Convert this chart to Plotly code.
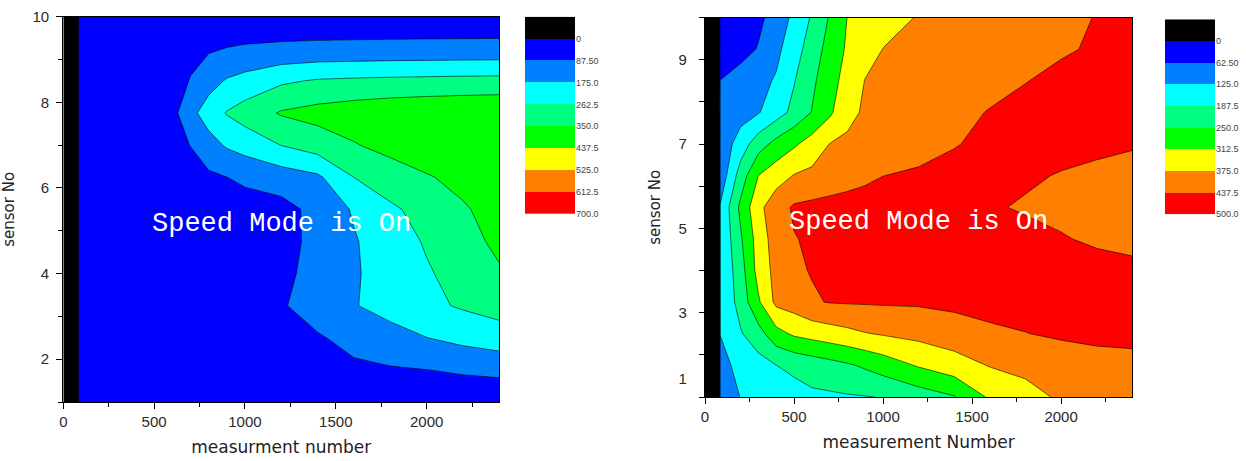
import plotly.graph_objects as go

# ---------------- data ----------------
MEASUREMENTS = [0, 84, 200, 300, 400, 500, 600, 700, 800, 900, 1000, 1200, 1400, 1600, 1800, 2000, 2200, 2400]
SENSORS = [1, 1.75, 2.5, 3.25, 4, 4.75, 5.5, 6.25, 7, 7.75, 8.5, 9.25, 10]
NO_DATA = -100000  # measurement 0 carries no reading (drawn below the 0 level)

LEFT_Z = [
    [NO_DATA, 30, 30, 32, 34, 36, 38, 40, 42, 44, 46, 48, 50, 52, 54, 56, 57, 58],
    [NO_DATA, 30, 31, 33, 35, 37, 39, 41, 43, 45, 50, 58, 65, 73, 80, 87, 93, 97],
    [NO_DATA, 30, 32, 34, 36, 38, 40, 42, 45, 48, 52, 65, 80, 111, 142, 174, 202, 230],
    [NO_DATA, 30, 32, 34, 37, 40, 43, 46, 50, 55, 60, 80, 123, 170, 208, 244, 272, 290],
    [NO_DATA, 30, 32, 34, 37, 40, 43, 46, 50, 55, 60, 68, 115, 166, 211, 254, 294, 340],
    [NO_DATA, 30, 32, 34, 37, 40, 43, 46, 50, 53, 55, 58, 111, 168, 220, 271, 317, 370],
    [NO_DATA, 30, 33, 36, 39, 42, 45, 48, 50, 52, 55, 58, 113, 184, 250, 289, 341, 382],
    [NO_DATA, 30, 35, 40, 45, 48, 50, 58, 72, 87, 102, 131, 160, 263, 303, 343, 374, 395],
    [NO_DATA, 30, 35, 40, 45, 50, 60, 89, 141, 185, 211, 264, 304, 344, 380, 403, 418, 425],
    [NO_DATA, 30, 35, 40, 45, 55, 60, 150, 216, 268, 300, 358, 380, 397, 410, 419, 425, 430],
    [NO_DATA, 30, 35, 40, 45, 50, 55, 91, 142, 183, 205, 249, 271, 277, 282, 285, 288, 290],
    [NO_DATA, 30, 35, 40, 45, 50, 55, 68, 78, 90, 97, 104, 108, 110, 112, 113, 114, 115],
    [NO_DATA, 30, 30, 30, 30, 30, 30, 30, 30, 30, 30, 30, 30, 30, 30, 30, 30, 30],
]

RIGHT_Z = [
    [NO_DATA, 100, 126, 135, 150, 165, 176, 178, 182, 185, 190, 218, 246, 322, 355, 383, 395, 405],
    [NO_DATA, 110, 138, 162, 187, 201, 215, 228, 242, 259, 279, 318, 349, 378, 390, 400, 410, 418],
    [NO_DATA, 125.5, 182, 226, 291, 322, 335, 347, 359, 372, 380, 393, 407, 425, 436, 447, 455, 455],
    [NO_DATA, 128, 212, 304, 390, 404, 432, 440, 442, 443, 444, 445, 452, 460, 462, 462, 462, 458],
    [NO_DATA, 128, 224, 335, 395, 430, 440, 448, 455, 460, 463, 466, 468, 468, 466, 462, 455, 448],
    [NO_DATA, 128, 242, 340, 405, 435, 445, 452, 458, 462, 465, 468, 468, 466, 460, 441, 430, 425],
    [NO_DATA, 128, 264, 359, 411, 445, 452, 458, 462, 465, 468, 470, 462, 445, 430, 425, 420, 418],
    [NO_DATA, 82, 216, 313, 348, 378, 389, 401, 413, 425, 437, 445, 452, 455, 448, 433, 425, 420],
    [NO_DATA, 80, 155, 222, 270, 303, 339, 376, 384, 393, 401, 418, 435, 448, 458, 463, 450, 442],
    [NO_DATA, 76, 100, 121, 160, 204, 252, 301, 361, 382, 390, 407, 424, 440, 452, 464, 470, 475],
    [NO_DATA, 63, 87, 107, 131, 184, 237, 289, 335, 377, 382, 395, 409, 422, 436, 449, 463, 476],
    [NO_DATA, 20, 42, 66, 110, 160, 217, 273, 321, 350, 376, 387, 398, 409, 421, 432, 443, 454],
    [NO_DATA, 20, 38, 50, 86, 140, 194, 255, 314, 332, 350, 379, 391, 403, 415, 427, 439, 452],
]

LEFT_LEVEL_START, LEFT_LEVEL_STEP = 0, 87.5
RIGHT_LEVEL_START, RIGHT_LEVEL_STEP = 0, 62.5
LEFT_LEVEL_LABELS = ["0", "87.50", "175.0", "262.5", "350.0", "437.5", "525.0", "612.5", "700.0"]
RIGHT_LEVEL_LABELS = ["0", "62.50", "125.0", "187.5", "250.0", "312.5", "375.0", "437.5", "500.0"]
BAND_COLORS = ["#000000", "#0000FF", "#0080FF", "#00FFFF", "#00FF80",
               "#00FF00", "#FFFF00", "#FF8000", "#FF0000"]

RIGHT_Y_TICKVALS = [1.44, 3, 5, 7, 9]
RIGHT_Y_TICKTEXT = ["1", "3", "5", "7", "9"]
WATERMARK = "Speed Mode is On"

# ---------------- helpers ----------------
W, H = 1246, 461
n = len(BAND_COLORS)
cs = []
for k, c in enumerate(BAND_COLORS):
    lo = max(0.0, (k - 0.5) / (n - 1))
    hi = min(1.0, (k + 0.5) / (n - 1))
    cs += [[lo, c], [hi, c]]


def dx(a, b):
    return [a / W, b / W]


def dy(top, bottom):
    return [1 - bottom / H, 1 - top / H]


TICKFONT = dict(family="Liberation Sans, Arial, sans-serif", size=15, color="#2a2a2a")
XTITLEFONT = dict(family="DejaVu Sans, sans-serif", size=17, color="#222222")
YTITLEFONT = dict(family="DejaVu Sans, sans-serif", size=15, color="#222222")
LEGFONT = dict(family="Liberation Sans, Arial, sans-serif", size=9, color="#444444")

fig = go.Figure()

for z, xa, ya, start, step in [(LEFT_Z, "x", "y", LEFT_LEVEL_START, LEFT_LEVEL_STEP),
                               (RIGHT_Z, "x2", "y2", RIGHT_LEVEL_START, RIGHT_LEVEL_STEP)]:
    fig.add_trace(go.Contour(
        x=MEASUREMENTS, y=SENSORS, z=z, xaxis=xa, yaxis=ya,
        autocontour=False,
        contours=dict(start=start, end=start + step * (n - 2), size=step,
                      coloring="fill", showlines=True),
        line=dict(color="black", width=0.6, smoothing=0),
        colorscale=cs, showscale=False, hoverinfo="skip",
    ))

for labels, xa, ya in [(LEFT_LEVEL_LABELS, "x3", "y3"), (RIGHT_LEVEL_LABELS, "x4", "y4")]:
    fig.add_trace(go.Heatmap(
        z=[[k] for k in range(len(labels))], x=[0], y=list(range(len(labels))),
        xaxis=xa, yaxis=ya, colorscale=cs, zmin=0, zmax=len(labels) - 1,
        showscale=False, hoverinfo="skip",
    ))

common_x = dict(range=[0, 2400], tick0=0, dtick=500, ticks="outside", ticklen=6, tickwidth=1.2,
                tickcolor="black", showline=True, linecolor="black", linewidth=1.2, mirror=True,
                showgrid=False, zeroline=False, tickfont=TICKFONT, automargin=False,
                minor=dict(dtick=250, ticks="outside", ticklen=4, tickwidth=1.2, tickcolor="black"))

fig.update_layout(
    width=W, height=H, margin=dict(l=0, r=0, t=0, b=0, autoexpand=False),
    paper_bgcolor="white", plot_bgcolor="white", showlegend=False,
    xaxis=dict(domain=dx(63.3, 499.3), anchor="y",
               title=dict(text="measurment number", font=XTITLEFONT, standoff=12), **common_x),
    yaxis=dict(domain=dy(16.7, 402), anchor="x", range=[1, 10], tick0=0, dtick=2,
               ticks="outside", ticklen=6, tickwidth=1.2, tickcolor="black",
               showline=True, linecolor="black", linewidth=1.2, mirror=True, automargin=False,
               showgrid=False, zeroline=False, tickfont=TICKFONT, ticklabelstandoff=4,
               minor=dict(dtick=1, ticks="outside", ticklen=4, tickwidth=1.2, tickcolor="black"),
               title=dict(text="sensor No", font=YTITLEFONT, standoff=14)),
    xaxis2=dict(domain=dx(705, 1132.3), anchor="y2",
                title=dict(text="measurement Number", font=XTITLEFONT, standoff=12), **common_x),
    yaxis2=dict(domain=dy(17.5, 397), anchor="x2", range=[1, 10],
                tickmode="array", tickvals=RIGHT_Y_TICKVALS, ticktext=RIGHT_Y_TICKTEXT,
                ticks="", showline=True, linecolor="black", linewidth=1.2, mirror=True,
                showgrid=False, zeroline=False, tickfont=TICKFONT, ticklabelstandoff=14,
                automargin=False,
                minor=dict(tickmode="array", tickvals=list(range(1, 11)), ticks="outside",
                           ticklen=5, tickwidth=1.2, tickcolor="black"),
                title=dict(text="sensor No", font=YTITLEFONT, standoff=14)),
    xaxis3=dict(domain=dx(525, 575), anchor="y3", visible=False, range=[-0.5, 0.5]),
    yaxis3=dict(domain=dy(16.7, 214), anchor="x3", range=[len(LEFT_LEVEL_LABELS) - 0.5, -0.5],
                side="right", tickmode="array", automargin=False,
                tickvals=[k + 0.5 for k in range(len(LEFT_LEVEL_LABELS))], ticktext=LEFT_LEVEL_LABELS,
                ticks="", showline=False, showgrid=False, zeroline=False, tickfont=LEGFONT),
    xaxis4=dict(domain=dx(1165, 1215), anchor="y4", visible=False, range=[-0.5, 0.5]),
    yaxis4=dict(domain=dy(19.3, 214.3), anchor="x4", range=[len(RIGHT_LEVEL_LABELS) - 0.5, -0.5],
                side="right", tickmode="array", automargin=False,
                tickvals=[k + 0.5 for k in range(len(RIGHT_LEVEL_LABELS))], ticktext=RIGHT_LEVEL_LABELS,
                ticks="", showline=False, showgrid=False, zeroline=False, tickfont=LEGFONT),
)

for xr, yr in [("x", "y"), ("x2", "y2")]:
    fig.add_annotation(text=WATERMARK, x=1200, y=5.15, xref=xr, yref=yr,
                       xanchor="center", yanchor="middle", showarrow=False,
                       font=dict(family="Liberation Mono, Courier New, monospace", size=27, color="white"))

fig.write_html("out.html", config={"displayModeBar": False},
               post_script="document.body.style.margin='0';document.body.style.overflow='hidden';")
